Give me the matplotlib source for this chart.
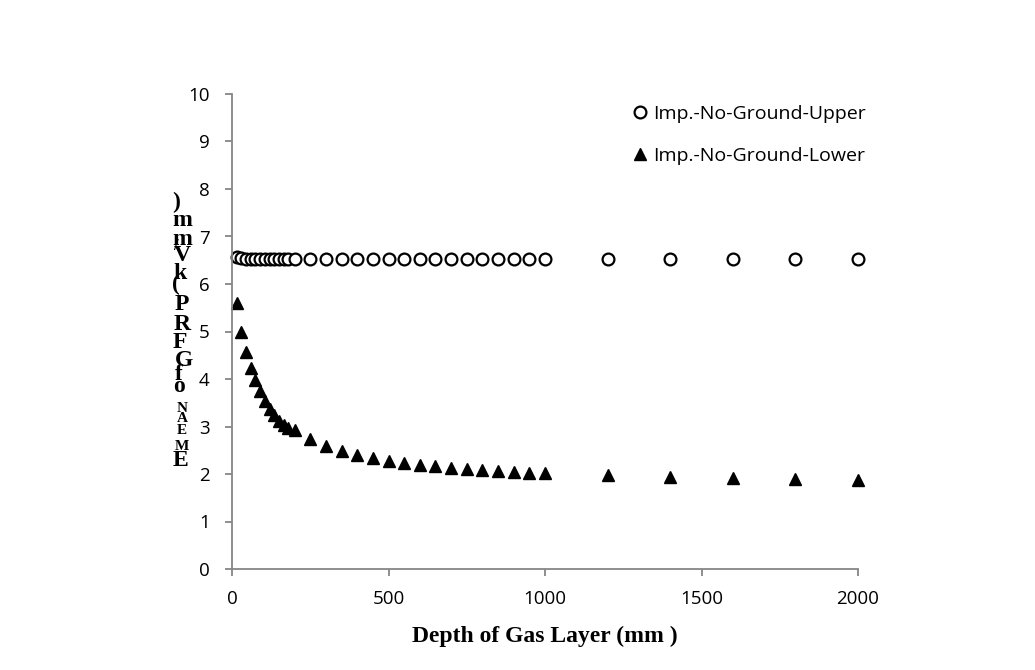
import matplotlib
matplotlib.use("Agg")
import matplotlib.pyplot as plt

# depth of gas layer (mm)
depth_dense = [15, 30, 45, 60, 75, 90, 105, 120, 135, 150, 165, 180, 200]
depth_wide = [250, 300, 350, 400, 450, 500, 550, 600, 650, 700, 750, 800, 850, 900, 950, 1000,
              1200, 1400, 1600, 1800, 2000]
depth = depth_dense + depth_wide

upper = [6.56, 6.54, 6.53, 6.53, 6.52, 6.52, 6.52, 6.52, 6.52, 6.52, 6.52, 6.52, 6.52,
         6.52, 6.52, 6.52, 6.52, 6.52, 6.52, 6.52, 6.52, 6.52, 6.52, 6.52, 6.52, 6.52, 6.52, 6.52,
         6.52, 6.52, 6.52, 6.52, 6.52, 6.52]
lower = [5.61, 5.00, 4.57, 4.24, 3.98, 3.74, 3.54, 3.37, 3.24, 3.12, 3.03, 2.97, 2.92,
         2.73, 2.59, 2.49, 2.41, 2.34, 2.28, 2.24, 2.20, 2.16, 2.13, 2.10, 2.08, 2.06, 2.05, 2.03, 2.02,
         1.98, 1.94, 1.91, 1.89, 1.87]

labels = ["Imp.-No-Ground-Upper", "Imp.-No-Ground-Lower"]

# y label as it appears: stacked upright glyphs (char, y pixel, x pixel, size)
ylab_chars = [(")", 202, 176, 17), ("m", 221, 182, 17), ("m", 240, 182, 17), ("/", 246, 175, 12),
              ("V", 256, 182, 17), ("k", 273, 180, 17), ("(", 284, 176, 17), ("P", 305, 182, 17),
              ("R", 324, 182, 17), ("F", 343, 180, 17), ("G", 360, 184, 17), ("f", 375, 179, 17),
              ("o", 387, 179, 17), ("N", 409, 182, 11), ("A", 419, 182, 11), ("E", 431, 182, 11),
              ("M", 446, 182, 11), ("E", 460, 180, 17)]

W, H = 1035, 670
fig = plt.figure(figsize=(W / 100, H / 100), dpi=100)
ax = fig.add_axes([232 / W, 1 - 569 / H, (858 - 232) / W, (569 - 94) / H])

ax.plot(depth, upper, linestyle="none", marker="o", markersize=8.5, markerfacecolor="white",
        markeredgecolor="black", markeredgewidth=1.6, label=labels[0], clip_on=False)
ax.plot(depth, lower, linestyle="none", marker="^", markersize=9, color="black", label=labels[1],
        clip_on=False)

ax.set_xlim(0, 2000)
ax.set_ylim(0, 10)
ax.set_xticks([0, 500, 1000, 1500, 2000])
ax.set_yticks(range(0, 11))

for s in ["top", "right"]:
    ax.spines[s].set_visible(False)
for s in ["left", "bottom"]:
    ax.spines[s].set_color("#868686")
    ax.spines[s].set_linewidth(1.3)

tick_font = "Open Sans"
ax.tick_params(axis="both", direction="out", length=5, width=1.3, color="#868686", labelsize=13.5)
ax.tick_params(axis="y", pad=11)
ax.tick_params(axis="x", pad=10)
for lab in ax.get_xticklabels() + ax.get_yticklabels():
    lab.set_fontfamily(tick_font)

ax.set_xlabel("Depth of Gas Layer (mm )", fontsize=17, fontweight="bold", family="Liberation Serif",
              labelpad=13)

for ch, yp, xp, sz in ylab_chars:
    fig.text(xp / W, 1 - yp / H, ch, fontsize=sz, fontweight="bold", family="Liberation Serif",
             ha="center", va="center")

leg = ax.legend(loc="upper left", bbox_to_anchor=(622 / W, 1 - 97 / H), bbox_transform=fig.transFigure,
                frameon=False, handletextpad=0.1, labelspacing=1.25, handlelength=1.1,
                prop={"family": tick_font, "size": 14}, borderaxespad=0)

fig.savefig("out.png", dpi=100, facecolor="white")
